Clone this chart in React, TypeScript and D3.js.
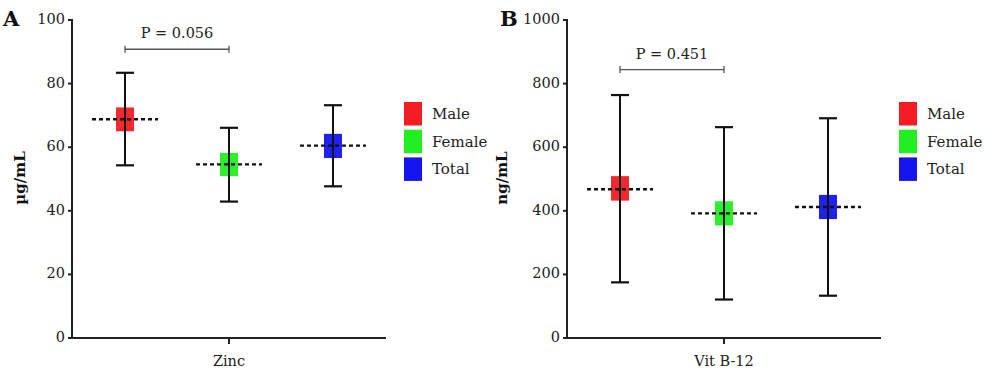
import React from "react";
import * as d3 from "d3";

const groups = ["Male", "Female", "Total"];
const colors = ["#f21c22", "#22ee22", "#1414ef"];

const zincMean = [68.8, 54.6, 60.5];
const zincBoxHigh = [72.5, 58.2, 64.2];
const zincBoxLow = [65.0, 50.9, 56.6];
const zincMax = [83.4, 66.1, 73.2];
const zincMin = [54.3, 42.9, 47.7];
const zincTicks = [0, 20, 40, 60, 80, 100];

const b12Mean = [468, 392, 412];
const b12BoxHigh = [509, 430, 450];
const b12BoxLow = [432, 354, 374];
const b12Max = [764, 663, 691];
const b12Min = [175, 121, 133];
const b12Ticks = [0, 200, 400, 600, 800, 1000];

const panels = [
  { letter: "A", ylabel: "µg/mL", xlabel: "Zinc", p: "P = 0.056", pLevel: 90.8, max: 100, ticks: zincTicks, mean: zincMean, hi: zincBoxHigh, lo: zincBoxLow, mx: zincMax, mn: zincMin, x0: 72, yLabOff: 47, letterX: 3 },
  { letter: "B", ylabel: "ng/mL", xlabel: "Vit B-12", p: "P = 0.451", pLevel: 844, max: 1000, ticks: b12Ticks, mean: b12Mean, hi: b12BoxHigh, lo: b12BoxLow, mx: b12Max, mn: b12Min, x0: 567, yLabOff: 60, letterX: 500 },
];

const FONT = "'DejaVu Serif', serif";

function Panel({ cfg }: { cfg: any }) {
  const y = d3.scaleLinear().domain([0, cfg.max]).range([338, 20]);
  const axisW = 314;
  const x = d3.scalePoint().domain(groups).range([cfg.x0, cfg.x0 + axisW]).padding(0.51);
  const boxW = 18;
  const capW = 18;
  const dashHalf = 33;
  const xc = x("Female") as number;
  const legX = cfg.x0 + 332;
  return (
    <g>
      <text x={cfg.letterX} y={26} fontFamily={FONT} fontWeight="bold" fontSize={21} fill="#111">{cfg.letter}</text>
      {/* y axis */}
      <line x1={cfg.x0} x2={cfg.x0} y1={y(cfg.max) - 1} y2={y(0) + 1} stroke="#222" strokeWidth={2} />
      {cfg.ticks.map((t: number) => (
        <g key={t}>
          <line x1={cfg.x0 - 4} x2={cfg.x0} y1={y(t)} y2={y(t)} stroke="#222" strokeWidth={2} />
          <text x={cfg.x0 - 7} y={y(t) + 4} textAnchor="end" fontFamily={FONT} fontSize={14.5} fill="#222">{t}</text>
        </g>
      ))}
      <text transform={`translate(${cfg.x0 - cfg.yLabOff},${178}) rotate(-90)`} textAnchor="middle" fontFamily={FONT} fontWeight="bold" fontSize={15} fill="#111">{cfg.ylabel}</text>
      {/* x axis */}
      <line x1={cfg.x0 - 1} x2={cfg.x0 + axisW} y1={y(0)} y2={y(0)} stroke="#222" strokeWidth={2} />
      <line x1={xc} x2={xc} y1={y(0)} y2={y(0) + 6} stroke="#222" strokeWidth={2} />
      <text x={xc} y={366} textAnchor="middle" fontFamily={FONT} fontSize={14.5} fill="#222">{cfg.xlabel}</text>
      {/* p bracket */}
      {(() => {
        const xa = x("Male") as number;
        const xb = x("Female") as number;
        const py = y(cfg.pLevel);
        return (
          <g stroke="#555" strokeWidth={1.3}>
            <line x1={xa} x2={xb} y1={py} y2={py} />
            <line x1={xa} x2={xa} y1={py - 3.5} y2={py + 3.5} />
            <line x1={xb} x2={xb} y1={py - 3.5} y2={py + 3.5} />
            <text x={(xa + xb) / 2} y={py - 11} textAnchor="middle" fontFamily={FONT} fontSize={14.5} fill="#222" stroke="none">{cfg.p}</text>
          </g>
        );
      })()}
      {/* marks */}
      {groups.map((g, i) => {
        const cx = x(g) as number;
        return (
          <g key={g}>
            <rect x={cx - boxW / 2} y={y(cfg.hi[i])} width={boxW} height={y(cfg.lo[i]) - y(cfg.hi[i])} fill={colors[i]} opacity={0.95} />
            <line x1={cx} x2={cx} y1={y(cfg.mx[i])} y2={y(cfg.mn[i])} stroke="#111" strokeWidth={2} />
            <line x1={cx - capW / 2} x2={cx + capW / 2} y1={y(cfg.mx[i])} y2={y(cfg.mx[i])} stroke="#111" strokeWidth={2.2} />
            <line x1={cx - capW / 2} x2={cx + capW / 2} y1={y(cfg.mn[i])} y2={y(cfg.mn[i])} stroke="#111" strokeWidth={2.2} />
            <line x1={cx - dashHalf} x2={cx + dashHalf} y1={y(cfg.mean[i])} y2={y(cfg.mean[i])} stroke="#111" strokeWidth={2.4} strokeDasharray="4,3" />
          </g>
        );
      })}
      {/* legend */}
      {groups.map((g, i) => (
        <g key={"l" + g}>
          <rect x={legX} y={102 + i * 27.7} width={18} height={23.5} fill={colors[i]} />
          <text x={legX + 28} y={119 + i * 27.7} fontFamily={FONT} fontSize={15} fill="#222">{g}</text>
        </g>
      ))}
    </g>
  );
}

export default function App() {
  return (
    <svg width={1000} height={378} style={{ position: "absolute", left: 0, top: 0, background: "#fff" }}>
      <rect width={1000} height={378} fill="#fff" />
      {panels.map((p) => (
        <Panel key={p.letter} cfg={p} />
      ))}
    </svg>
  );
}
